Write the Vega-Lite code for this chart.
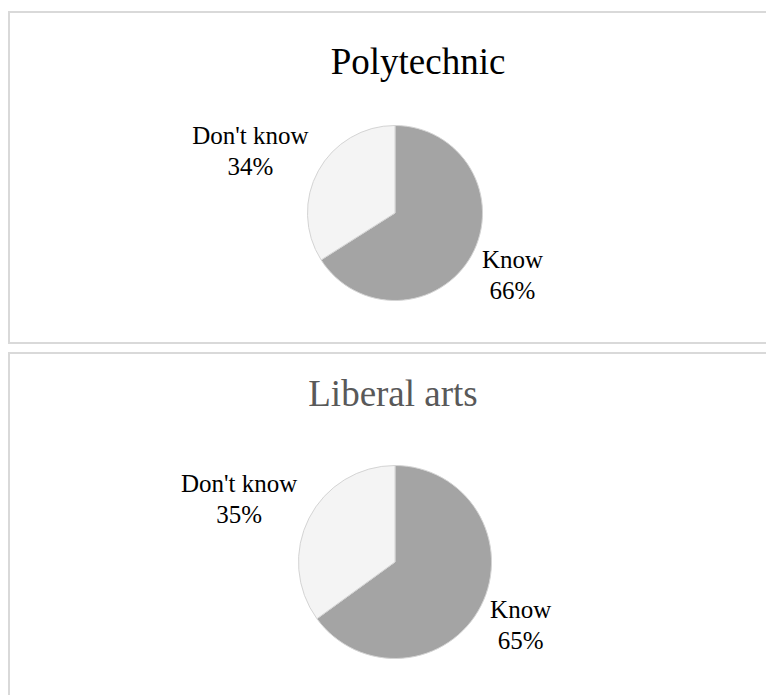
{
  "$schema": "https://vega.github.io/schema/vega-lite/v6.json",
  "background": "white",
  "padding": {"left": 8, "top": 11, "right": 0, "bottom": 0},
  "datasets": {
    "pies": [
      {"panel": "Polytechnic", "category": "Know", "share": 66, "label": "Know\n66%"},
      {"panel": "Polytechnic", "category": "Don't know", "share": 34, "label": "Don't know\n34%"},
      {"panel": "Liberal arts", "category": "Know", "share": 65, "label": "Know\n65%"},
      {"panel": "Liberal arts", "category": "Don't know", "share": 35, "label": "Don't know\n35%"}
    ]
  },
  "spacing": 8,
  "vconcat": [
    {
      "width": 772,
      "height": 331,
      "view": {"stroke": "#d9d9d9", "strokeWidth": 2, "fill": "white"},
      "data": {"name": "pies"},
      "transform": [{"filter": "datum.panel === 'Polytechnic'"}],
      "title": {"text": "Polytechnic", "color": "#000000", "dx": 23, "dy": 37, "offset": -62, "baseline": "alphabetic", "frame": "group", "anchor": "middle"},
      "encoding": {
        "theta": {"field": "share", "type": "quantitative", "stack": true},
        "order": {"field": "category", "type": "nominal", "sort": "descending"}
      },
      "layer": [
        {
          "mark": {"type": "arc", "outerRadius": 87.5, "y": 201, "stroke": "#d4d4d4", "strokeWidth": 1},
          "encoding": {
            "fill": {"field": "category", "type": "nominal", "scale": {"domain": ["Know", "Don't know"], "range": ["#a4a4a4", "#f4f4f4"]}, "legend": null}
          }
        },
        {
          "mark": {"type": "text", "y": 201, "radius": {"expr": "datum.category === 'Know' ? 134 : 165"}, "dy": {"expr": "datum.category === 'Know' ? -18 : 2"}, "lineBreak": "\n", "font": "Liberation Serif", "fontSize": 25, "lineHeight": 31, "color": "#000000"},
          "encoding": {"text": {"field": "label", "type": "nominal"}}
        }
      ]
    },
    {
      "width": 772,
      "height": 350,
      "view": {"stroke": "#d9d9d9", "strokeWidth": 2, "fill": "white"},
      "data": {"name": "pies"},
      "transform": [{"filter": "datum.panel === 'Liberal arts'"}],
      "title": {"text": "Liberal arts", "color": "#595959", "dx": -2, "dy": 36, "offset": -54, "baseline": "alphabetic", "frame": "group", "anchor": "middle"},
      "encoding": {
        "theta": {"field": "share", "type": "quantitative", "stack": true},
        "order": {"field": "category", "type": "nominal", "sort": "descending"}
      },
      "layer": [
        {
          "mark": {"type": "arc", "outerRadius": 96.5, "y": 209, "stroke": "#d4d4d4", "strokeWidth": 1},
          "encoding": {
            "fill": {"field": "category", "type": "nominal", "scale": {"domain": ["Know", "Don't know"], "range": ["#a4a4a4", "#f4f4f4"]}, "legend": null}
          }
        },
        {
          "mark": {"type": "text", "y": 209, "radius": {"expr": "datum.category === 'Know' ? 141 : 175"}, "dy": {"expr": "datum.category === 'Know' ? -16 : 1"}, "lineBreak": "\n", "font": "Liberation Serif", "fontSize": 25, "lineHeight": 31, "color": "#000000"},
          "encoding": {"text": {"field": "label", "type": "nominal"}}
        }
      ]
    }
  ],
  "config": {
    "view": {"stroke": "#d9d9d9", "strokeWidth": 2},
    "title": {"font": "Liberation Serif", "fontSize": 37, "fontWeight": "normal"}
  }
}
